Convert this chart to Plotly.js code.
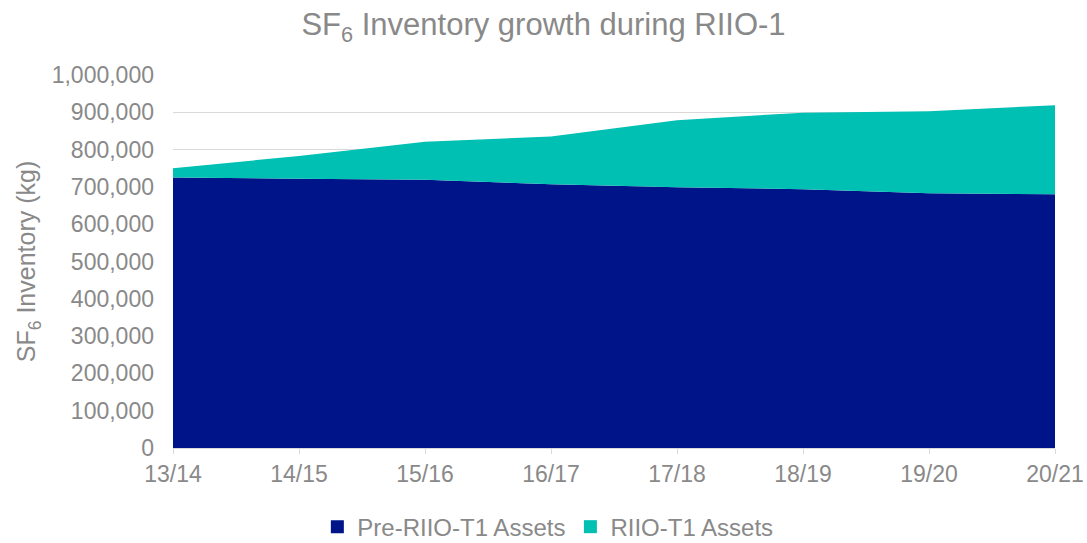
<!DOCTYPE html>
<html>
<head>
<meta charset="utf-8">
<script src="https://cdn.plot.ly/plotly-3.0.1.min.js"></script>
<style>html,body{margin:0;padding:0;background:#fff;}#chart{width:1087px;height:543px;}</style>
</head>
<body>
<div id="chart"></div>
<script>
const years = ["13/14","14/15","15/16","16/17","17/18","18/19","19/20","20/21"];
const preRiio = [725000, 722000, 719000, 707000, 699000, 694000, 683000, 680000];
const riioT1 = [25000, 61000, 102000, 128000, 180000, 205000, 220000, 239000];
const yTicks = [0,100000,200000,300000,400000,500000,600000,700000,800000,900000,1000000];
const yTickText = ["0","100,000","200,000","300,000","400,000","500,000","600,000","700,000","800,000","900,000","1,000,000"];
const seriesNames = ["Pre-RIIO-T1 Assets", "RIIO-T1 Assets"];
const seriesColors = ["#001489", "#00BFB3"];

const grey = "#898989";
const data = [
  {x: years, y: preRiio, name: seriesNames[0], type: "scatter", mode: "none",
   stackgroup: "one", fillcolor: seriesColors[0], line: {width: 0}, showlegend: false},
  {x: years, y: riioT1, name: seriesNames[1], type: "scatter", mode: "none",
   stackgroup: "one", fillcolor: seriesColors[1], line: {width: 0}, showlegend: false},
  {x: [null], y: [null], name: seriesNames[0], type: "scatter", mode: "markers",
   marker: {symbol: "square", size: 13, color: seriesColors[0]}, showlegend: true},
  {x: [null], y: [null], name: seriesNames[1], type: "scatter", mode: "markers",
   marker: {symbol: "square", size: 13, color: seriesColors[1]}, showlegend: true}
];
const layout = {
  width: 1087, height: 543,
  margin: {l: 173, r: 32, t: 75, b: 95, autoexpand: false},
  paper_bgcolor: "#fff", plot_bgcolor: "#fff",
  font: {family: "Liberation Sans, Arial, sans-serif", color: grey, size: 23},
  title: {text: "SF<sub>6</sub> Inventory growth during RIIO-1", x: 0.5, xanchor: "center", y: 0.955, yanchor: "middle",
          font: {size: 31, color: grey}},
  xaxis: {type: "category", range: [0, 7], showgrid: false, showline: true, linecolor: "#D9D9D9", linewidth: 1,
          ticks: "outside", ticklen: 5, tickcolor: "#D9D9D9", tickfont: {size: 23, color: grey}, fixedrange: true},
  yaxis: {range: [0, 1000000], tickvals: yTicks, ticktext: yTickText, showgrid: true, gridcolor: "#D9D9D9",
          gridwidth: 1, zeroline: false, showline: false, ticks: "", ticklabelstandoff: 18,
          tickfont: {size: 23, color: grey},
          title: {text: "SF<sub>6</sub> Inventory (kg)", font: {size: 25, color: grey}, standoff: 8}},
  legend: {orientation: "h", xref: "container", x: 0.504, xanchor: "center", y: -0.212, yanchor: "middle",
           font: {size: 24, color: grey}, itemwidth: 30, traceorder: "normal"},
  showlegend: true
};
Plotly.newPlot("chart", data, layout, {displayModeBar: false, staticPlot: true});
</script>
</body>
</html>
